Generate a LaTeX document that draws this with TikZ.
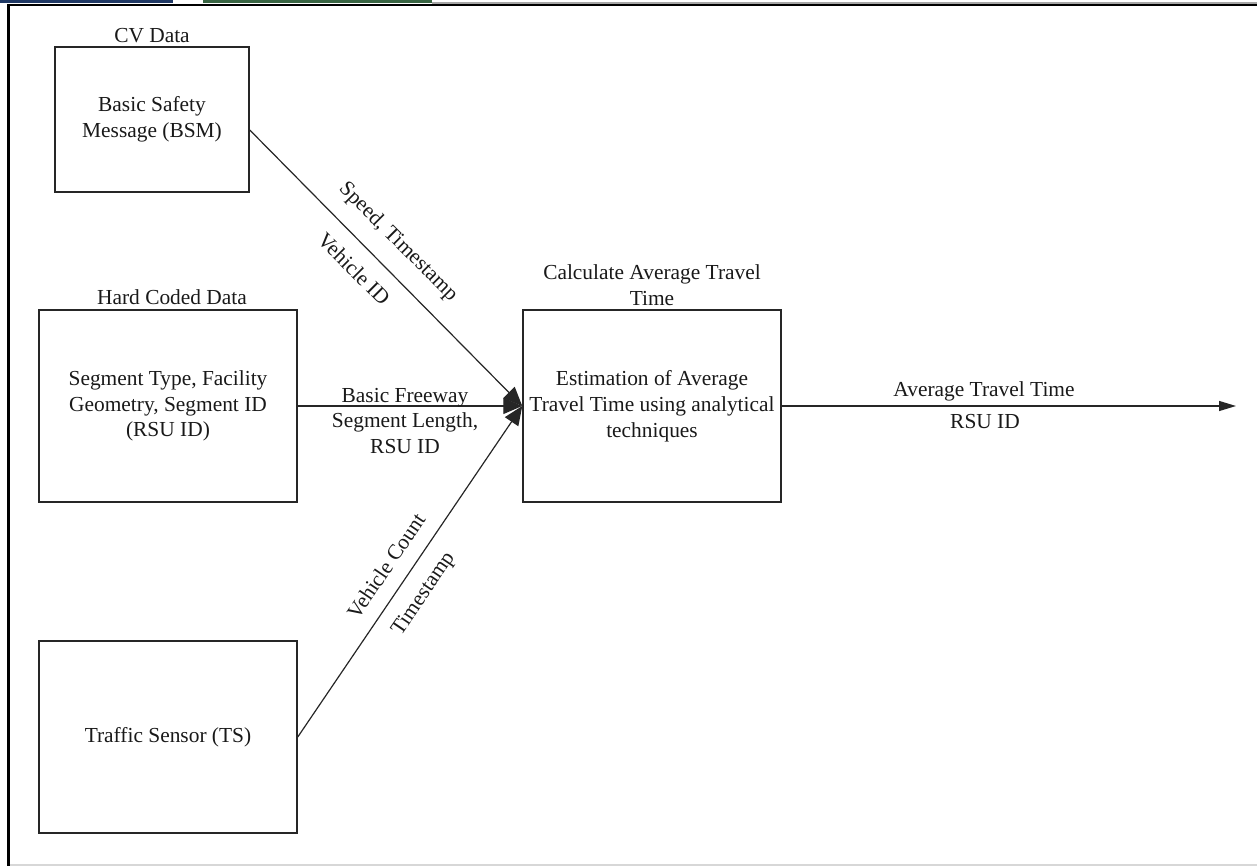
\documentclass[tikz,border=0pt]{standalone}
\usepackage{fontspec}
\setmainfont{Liberation Serif}
\usetikzlibrary{arrows.meta,calc}
\definecolor{barblue}{RGB}{31,56,100}
\definecolor{bargreen}{RGB}{56,100,66}
\definecolor{edgegray}{RGB}{215,215,215}
\begin{document}
\begin{tikzpicture}[x=0.5pt,y=-0.5pt,
  every node/.style={font=\fontsize{10.7pt}{12.9pt}\selectfont, text=black!90},
  smallbox/.style={draw=black!85, line width=0.75pt, minimum width=97pt, minimum height=72.5pt, inner sep=0pt, align=center},
  bigbox/.style={draw=black!85, line width=0.75pt, minimum width=129pt, minimum height=96pt, inner sep=0pt, align=center},
  flow/.style={draw=black!85, line width=0.6pt, -{Triangle[length=9.5pt,width=8pt]}},
  outflow/.style={draw=black!85, line width=0.6pt, -{Triangle[length=8.5pt,width=5pt]}},
  caption/.style={inner sep=1pt, align=center}
]
\useasboundingbox (0,0) rectangle (1257,866);

% window frame
\fill[barblue] (0,0) rectangle (173,3.5);
\fill[bargreen] (203,0) rectangle (432,3.5);
\fill[gray!70] (432,2.5) rectangle (1257,4);
\fill[black] (7,4) rectangle (1257,6.5);
\fill[black] (7,4) rectangle (9.5,866);
\fill[edgegray] (9.5,864) rectangle (1257,866);

% data sources
\node[smallbox] (bsm) at (152,119.5) {Basic Safety\\Message (BSM)};
\node[caption] (cvlabel) at (152,36) {CV Data};
\node[bigbox] (hard) at (168,406) {Segment Type, Facility\\Geometry, Segment ID\\(RSU ID)};
\node[caption] (hardlabel) at (172,297) {Hard Coded Data};
\node[bigbox] (ts) at (168,737) {Traffic Sensor (TS)};

% processing block
\node[bigbox] (calc) at (652,406) {Estimation of Average\\Travel Time using analytical\\techniques};
\node[caption] (calclabel) at (652,285) {Calculate Average Travel\\Time};

% connectors
\coordinate (bsmout) at ($(bsm.east)+(0,10.5)$);
\coordinate (result) at (1236,406);
\draw[flow] (bsmout) -- (calc.west);
\draw[flow] (hard.east) -- (calc.west);
\draw[flow] (ts.east) -- (calc.west);
\draw[outflow] (calc.east) -- (result);

% connector labels
\node[caption, rotate=-45] (l1a) at (398,242) {Speed, Timestamp};
\node[caption, rotate=-45] (l1b) at (354,269) {Vehicle ID};
\node[caption] (l2) at (405,421) {Basic Freeway\\Segment Length,\\RSU ID};
\node[caption, rotate=55.8] (l3a) at (386,566) {Vehicle Count};
\node[caption, rotate=55.8] (l3b) at (424,594) {Timestamp};
\node[caption] (l4a) at (984,391) {Average Travel Time};
\node[caption] (l4b) at (985,422) {RSU ID};
\end{tikzpicture}
\end{document}
